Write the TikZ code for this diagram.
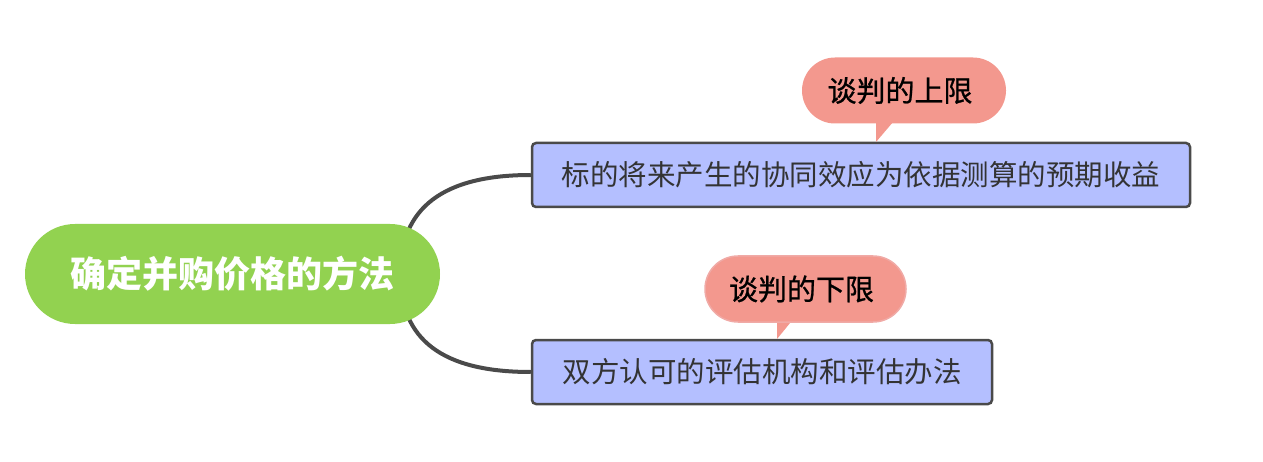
\documentclass[tikz,border=0pt]{standalone}
\usepackage{fontspec}
\setmainfont{Noto Sans CJK SC}
\newfontfamily\cjk{Noto Sans CJK SC}
\newfontfamily\cjkmed[FakeBold=0.8]{Noto Sans CJK SC}
\usetikzlibrary{backgrounds,calc}
\definecolor{rootgreen}{RGB}{146,210,80}
\definecolor{boxblue}{RGB}{180,191,255}
\definecolor{boxline}{RGB}{74,74,74}
\definecolor{calloutpink}{RGB}{243,152,142}
\definecolor{calloutline}{RGB}{240,170,166}
\definecolor{textgray}{RGB}{51,51,51}
\tikzset{
  rootnode/.style={fill=rootgreen, draw=none, rounded corners=50pt, minimum width=415pt, minimum height=100pt, inner sep=0pt, text=white, font=\cjk\bfseries\fontsize{36}{40}\selectfont},
  topicbox/.style={fill=boxblue, draw=boxline, line width=2.5pt, rounded corners=4pt, minimum height=64pt, inner sep=0pt, text=textgray, font=\cjk\fontsize{28.5}{32}\selectfont},
  callout/.style={fill=calloutpink, rounded corners=33pt, minimum height=66pt, inner sep=0pt, text=black, font=\cjkmed\fontsize{29}{32}\selectfont},
  branch/.style={draw=boxline, line width=4pt}
}
\begin{document}
\begin{tikzpicture}[x=1pt,y=-1pt]
\useasboundingbox (0,0) rectangle (1263,462);
\node[rootnode] (root) at (232.5,274) {确定并购价格的方法};
\node[topicbox, minimum width=658pt] (b1) at (861,175) {标的将来产生的协同效应为依据测算的预期收益};
\node[topicbox, minimum width=460pt] (b2) at (762,372) {双方认可的评估机构和评估办法};
% callouts
\fill[calloutpink] (876,115) -- (876,142) -- (899,115) -- cycle;
\node[callout, draw=none, minimum width=204pt] (c1) at (904,90.5) {\hspace*{-8pt}谈判的上限};
\fill[calloutpink] (777,312) -- (777,339) -- (799,312) -- cycle;
\node[callout, draw=calloutline, line width=1.5pt, minimum width=201pt] (c2) at (805.5,289) {\hspace*{-8pt}谈判的下限};
\begin{scope}[on background layer]
\coordinate (rs) at ($(root.east)+(-40,0)$);
\draw[branch] (rs) .. controls ($(rs)+(0,-66)$) and ($(b1.west)+(-88,0)$) .. (b1.west);
\draw[branch] (rs) .. controls ($(rs)+(0,66)$) and ($(b2.west)+(-88,0)$) .. (b2.west);
\end{scope}
\end{tikzpicture}
\end{document}
